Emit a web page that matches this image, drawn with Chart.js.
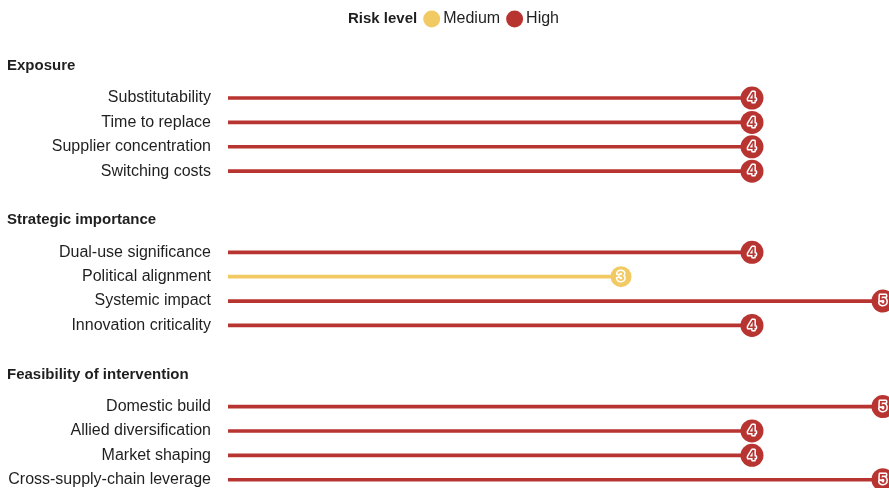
<!DOCTYPE html>
<html>
<head>
<meta charset="utf-8">
<script src="https://cdn.jsdelivr.net/npm/chart.js@4/dist/chart.umd.min.js"></script>
<style>
  html, body { margin: 0; padding: 0; background: #ffffff; }
  #wrap { width: 889px; height: 488px; position: relative; }
</style>
</head>
<body>
<div id="wrap"><canvas id="chart"></canvas></div>
<script>
// Risk factors grouped into three dimensions, each scored 1–5
const groups = ['Exposure', 'Strategic importance', 'Feasibility of intervention'];
const factors = [
  'Substitutability', 'Time to replace', 'Supplier concentration', 'Switching costs',
  'Dual-use significance', 'Political alignment', 'Systemic impact', 'Innovation criticality',
  'Domestic build', 'Allied diversification', 'Market shaping', 'Cross-supply-chain leverage'
];
const factorGroup = [0, 0, 0, 0, 1, 1, 1, 1, 2, 2, 2, 2];
const scores = [4, 4, 4, 4, 4, 3, 5, 4, 5, 4, 4, 5];
const levels = ['High', 'High', 'High', 'High', 'High', 'Medium', 'High', 'High', 'High', 'High', 'High', 'High'];
const levelNames = ['Medium', 'High'];

const levelColor = { Medium: '#f1ca63', High: '#b83431' };
const TEXT = '#1f1f1f';
const FONT = '"Liberation Sans", Arial, sans-serif';

// extra vertical room between groups, in row units
const GROUP_GAP = 2.33;
const rowPos = factors.map((f, i) => i + factorGroup[i] * GROUP_GAP);

const colors = levels.map(l => levelColor[l]);

// Group headings, legend and score digits
const decorations = {
  id: 'decorations',
  afterDatasetsDraw(chart) {
    const ctx = chart.ctx;
    const meta = chart.getDatasetMeta(1);
    ctx.save();
    ctx.textAlign = 'center';
    ctx.textBaseline = 'middle';
    ctx.font = 'bold 14px ' + FONT;
    ctx.lineJoin = 'round';
    meta.data.forEach((pt, i) => {
      ctx.lineWidth = 3;
      ctx.strokeStyle = '#ffffff';
      ctx.strokeText(String(scores[i]), pt.x, pt.y + 0.5);
      ctx.fillStyle = colors[i];
      ctx.fillText(String(scores[i]), pt.x, pt.y + 0.5);
    });
    ctx.restore();
  },
  afterDraw(chart) {
    const ctx = chart.ctx;
    const y = chart.scales.y;
    ctx.save();
    // group headings above each block of rows
    ctx.fillStyle = TEXT;
    ctx.textAlign = 'left';
    ctx.textBaseline = 'middle';
    ctx.font = 'bold 15px ' + FONT;
    groups.forEach((g, gi) => {
      const first = factorGroup.indexOf(gi);
      const py = y.getPixelForValue(rowPos[first]) - 32;
      ctx.fillText(g, 7, py);
    });

    // legend
    const ly = 19;
    ctx.font = 'bold 15px ' + FONT;
    const title = 'Risk level';
    const tw = ctx.measureText(title).width;
    ctx.font = '16px ' + FONT;
    const itemW = levelNames.map(n => 17 + 3 + ctx.measureText(n).width);
    const total = tw + levelNames.length * 6 + itemW.reduce((a, b) => a + b, 0);
    let x = chart.width / 2 + 9 - total / 2;
    ctx.font = 'bold 15px ' + FONT;
    ctx.fillStyle = TEXT;
    ctx.fillText(title, x, ly);
    x += tw + 6;
    ctx.font = '16px ' + FONT;
    levelNames.forEach((n, i) => {
      ctx.beginPath();
      ctx.arc(x + 8.5, ly, 8.5, 0, Math.PI * 2);
      ctx.fillStyle = levelColor[n];
      ctx.fill();
      ctx.fillStyle = TEXT;
      ctx.fillText(n, x + 20, ly);
      x += itemW[i] + 6;
    });
    ctx.restore();
  }
};

new Chart(document.getElementById('chart'), {
  type: 'bar',
  data: {
    datasets: [
      {
        type: 'bar',
        data: scores.map((s, i) => ({ x: s, y: rowPos[i] })),
        backgroundColor: colors,
        barThickness: 3,
        borderWidth: 0,
        order: 2
      },
      {
        type: 'scatter',
        data: scores.map((s, i) => ({ x: s, y: rowPos[i] })),
        pointRadius: levels.map(l => l === 'Medium' ? 10.5 : 11.5),
        pointBackgroundColor: colors,
        pointBorderWidth: 0,
        pointHoverRadius: levels.map(l => l === 'Medium' ? 10.5 : 11.5),
        clip: false,
        order: 1
      }
    ]
  },
  options: {
    indexAxis: 'y',
    responsive: true,
    maintainAspectRatio: false,
    animation: false,
    layout: { autoPadding: false, padding: { top: 40, right: 0, bottom: 0, left: 0 } },
    plugins: { legend: { display: false }, tooltip: { enabled: false } },
    scales: {
      x: {
        type: 'linear',
        display: false,
        min: 0,
        max: 5.046
      },
      y: {
        type: 'linear',
        reverse: true,
        offset: false,
        min: -2.38,
        max: 16,
        grid: { display: false, drawTicks: false, offset: false },
        border: { display: false },
        afterBuildTicks(scale) {
          scale.ticks = rowPos.map(v => ({ value: v }));
        },
        afterFit(scale) {
          scale.width = 228;
          scale.paddingTop = 0;
          scale.paddingBottom = 0;
        },
        ticks: {
          autoSkip: false,
          padding: 17,
          color: TEXT,
          font: { family: FONT, size: 16 },
          callback: (v, i) => factors[i]
        }
      }
    }
  },
  plugins: [decorations]
});
</script>
</body>
</html>
